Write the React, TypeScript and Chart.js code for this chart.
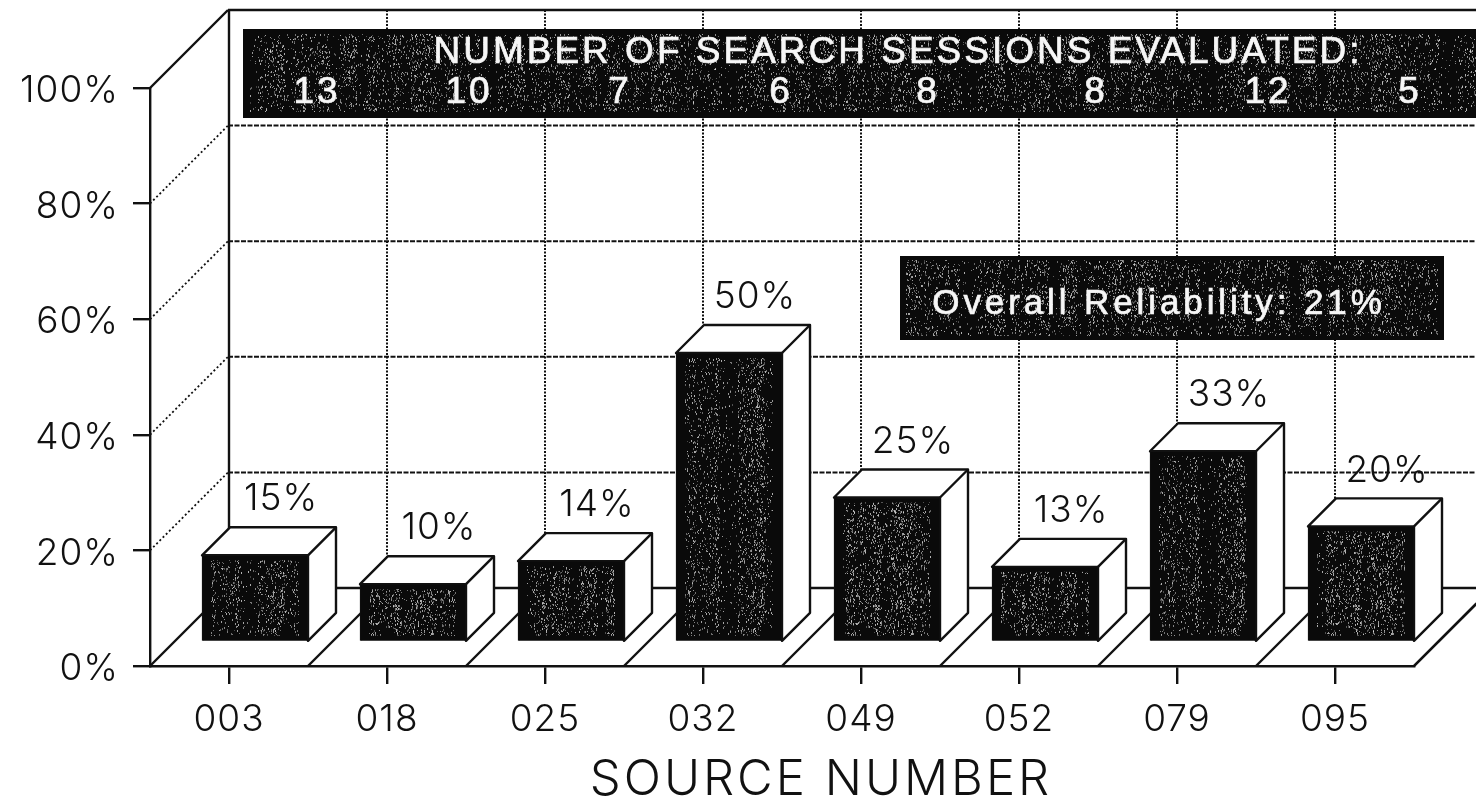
import React, { useEffect, useRef } from "react";
import { Chart, registerables } from "chart.js";

Chart.register(...registerables);

const sources = ["003", "018", "025", "032", "049", "052", "079", "095"];
const reliability = [15, 10, 14, 50, 25, 13, 33, 20];
const sessions = ["13", "10", "7", "6", "8", "8", "12", "5"];
const yTicks = [0, 20, 40, 60, 80, 100];
const bannerTitle = "NUMBER OF SEARCH SESSIONS EVALUATED:";
const overallText = "Overall Reliability: 21%";
const axisTitle = "SOURCE NUMBER";

const W = 1476;
const H = 805;
const INK = "#111111";
const FONT = "Inter";
const DEPTH = 78;
const BAR_DX = 26;
const BAR_DY = -24;
const BOX = 28;
const sessionLabelX = [317, 469, 620, 781, 928, 1096, 1268, 1410];

function speckle(ctx: CanvasRenderingContext2D, density: number) {
  const size = 240;
  const c = document.createElement("canvas");
  c.width = size;
  c.height = size;
  const g = c.getContext("2d")!;
  let s = 12345;
  const next = () => {
    s = (s * 1664525 + 1013904223) >>> 0;
    return s / 4294967296;
  };
  const columns: number[] = [];
  for (let x = 0; x < size; x++) {
    if (x % 9 === 0) columns.push(0.3 + next() * 1.4);
  }
  for (let x = 0; x < size; x++) {
    const d = density * columns[Math.floor(x / 9)];
    for (let y = 0; y < size; y++) {
      if (next() < d) {
        g.fillStyle = `rgba(225,225,225,${0.25 + next() * 0.55})`;
        g.fillRect(x, y, 1, next() < 0.5 ? 2 : 1);
      }
    }
  }
  return ctx.createPattern(c, "repeat")!;
}

const line = (
  ctx: CanvasRenderingContext2D,
  x1: number,
  y1: number,
  x2: number,
  y2: number,
  width: number,
  dash: number[] = []
) => {
  ctx.save();
  ctx.beginPath();
  ctx.setLineDash(dash);
  ctx.lineWidth = width;
  ctx.strokeStyle = INK;
  ctx.moveTo(x1, y1);
  ctx.lineTo(x2, y2);
  ctx.stroke();
  ctx.restore();
};

const cube = {
  id: "cube",
  beforeDraw(chart: any) {
    const ctx = chart.ctx;
    ctx.fillStyle = "#fff";
    ctx.fillRect(0, 0, W, H);
    ctx.letterSpacing = "1px";
  },
  beforeDatasetsDraw(chart: any) {
    const ctx = chart.ctx;
    const x = chart.scales.x;
    const y = chart.scales.y;
    const left = chart.chartArea.left;
    const right = chart.chartArea.right;
    const floorY = y.getPixelForValue(0);
    const backLeft = left + DEPTH;

    yTicks.forEach((v) => {
      const py = y.getPixelForValue(v);
      if (v === 0 || v === 100) {
        line(ctx, backLeft, py - DEPTH, W, py - DEPTH, 2.4);
        line(ctx, left, py, backLeft, py - DEPTH, 2.4);
      } else {
        line(ctx, backLeft, py - DEPTH, W, py - DEPTH, 2, [5, 1.5]);
        line(ctx, left, py, backLeft, py - DEPTH, 1.8, [2, 2.5]);
      }
    });
    sources.forEach((_, i) => {
      const px = x.getPixelForValue(i);
      const topY = y.getPixelForValue(100) - DEPTH;
      if (i === 0) line(ctx, px, topY, px, floorY - DEPTH, 2.4);
      else line(ctx, px, topY, px, floorY - DEPTH, 2, [2, 1.5]);
      const fx = left + (i + 1) * (x.getPixelForValue(1) - x.getPixelForValue(0));
      line(ctx, fx, floorY, fx + DEPTH, floorY - DEPTH, 2.4);
    });
    line(ctx, right, floorY, W, floorY - (W - right), 2.4);

    const meta = chart.getDatasetMeta(0);
    meta.data.forEach((el: any) => {
      const l = el.x - el.width / 2 + BAR_DX;
      const r = el.x + el.width / 2 + BAR_DX;
      const t = el.y + BAR_DY;
      const b = el.base + BAR_DY;
      ctx.save();
      ctx.fillStyle = "#fff";
      ctx.strokeStyle = INK;
      ctx.lineWidth = 2.4;
      ctx.lineJoin = "round";
      ctx.beginPath();
      ctx.moveTo(l, t);
      ctx.lineTo(l + BOX, t - BOX);
      ctx.lineTo(r + BOX, t - BOX);
      ctx.lineTo(r + BOX, b - BOX);
      ctx.lineTo(r, b);
      ctx.lineTo(r, t);
      ctx.closePath();
      ctx.fill();
      ctx.stroke();
      ctx.beginPath();
      ctx.moveTo(r, t);
      ctx.lineTo(r + BOX, t - BOX);
      ctx.stroke();
      ctx.restore();
    });

    ctx.save();
    ctx.translate(BAR_DX, BAR_DY);
  },
  afterDatasetsDraw(chart: any) {
    const ctx = chart.ctx;
    ctx.restore();
    const meta = chart.getDatasetMeta(0);
    const pattern = speckle(ctx, 0.1);
    const patternBanner = speckle(ctx, 0.09);

    meta.data.forEach((el: any, i: number) => {
      const l = el.x - el.width / 2 + BAR_DX;
      const t = el.y + BAR_DY;
      const b = el.base + BAR_DY;
      ctx.fillStyle = pattern;
      ctx.fillRect(l + 9, t + 5, el.width - 18, b - t - 10);
      ctx.save();
      ctx.fillStyle = "#111";
      ctx.font = `300 37px ${FONT}`;
      ctx.textAlign = "center";
      ctx.textBaseline = "middle";
      ctx.fillText(`${reliability[i]}%`, el.x + BAR_DX + BOX - 2, t - BOX - 28);
      ctx.restore();
    });

    ctx.save();
    ctx.fillStyle = "#0a0a0a";
    ctx.fillRect(243, 29, W - 243, 89);
    ctx.fillStyle = patternBanner;
    ctx.fillRect(250, 34, W - 250, 78);
    ctx.fillStyle = "#f6f6f6";
    ctx.strokeStyle = "#f6f6f6";
    ctx.lineWidth = 0.7;
    ctx.textBaseline = "middle";
    ctx.textAlign = "center";
    ctx.font = `400 37px "Liberation Sans"`;
    ctx.letterSpacing = "3px";
    ctx.fillText(bannerTitle, 898, 53);
    ctx.strokeText(bannerTitle, 898, 53);
    sessions.forEach((s, i) => {
      ctx.fillText(s, sessionLabelX[i], 93);
      ctx.strokeText(s, sessionLabelX[i], 93);
    });
    ctx.restore();

    ctx.save();
    ctx.fillStyle = "#0a0a0a";
    ctx.fillRect(900, 256, 544, 84);
    ctx.fillStyle = patternBanner;
    ctx.fillRect(906, 260, 532, 76);
    ctx.fillStyle = "#f6f6f6";
    ctx.strokeStyle = "#f6f6f6";
    ctx.lineWidth = 0.7;
    ctx.textBaseline = "middle";
    ctx.textAlign = "center";
    ctx.font = `400 35px "Liberation Sans"`;
    ctx.letterSpacing = "3.9px";
    ctx.fillText(overallText, 1159, 304);
    ctx.strokeText(overallText, 1159, 304);
    ctx.restore();

    ctx.save();
    ctx.fillStyle = "#111";
    ctx.textAlign = "center";
    ctx.textBaseline = "middle";
    ctx.font = `300 49px ${FONT}`;
    ctx.letterSpacing = "3px";
    ctx.fillText(axisTitle, 821, 780);
    ctx.restore();
  },
};

export default function App() {
  const ref = useRef<HTMLCanvasElement>(null);
  useEffect(() => {
    const chart = new Chart(ref.current!, {
      type: "bar",
      data: {
        labels: sources,
        datasets: [
          {
            label: "Reliability",
            data: reliability,
            backgroundColor: "#0a0a0a",
            borderColor: INK,
            borderWidth: 1,
            barThickness: 106,
            clip: false,
          } as any,
        ],
      },
      options: {
        responsive: false,
        animation: false,
        layout: { padding: { left: 0, top: 88, right: W - 1414, bottom: 0 } },
        plugins: { legend: { display: false }, tooltip: { enabled: false } },
        scales: {
          x: {
            afterFit(s: any) {
              s.height = H - 666;
            },
            grid: { drawOnChartArea: false, color: INK, lineWidth: 2.4, tickLength: 18, offset: false },
            border: { display: true, color: INK, width: 2.4 },
            ticks: {
              color: "#111",
              padding: 14,
              maxRotation: 0,
              autoSkip: false,
              font: { family: FONT, size: 37, weight: "300" as any },
            },
          },
          y: {
            min: 0,
            max: 100,
            afterFit(s: any) {
              s.width = 150;
            },
            afterBuildTicks(s: any) {
              s.ticks = yTicks.map((value) => ({ value }));
            },
            grid: { drawOnChartArea: false, color: INK, lineWidth: 2.4, tickLength: 17 },
            border: { display: true, color: INK, width: 2.4 },
            ticks: {
              color: "#111",
              padding: 14,
              labelOffset: 3,
              font: { family: FONT, size: 37, weight: "300" as any },
              callback: (v: any) => `${v}%`,
            },
          },
        },
      },
      plugins: [cube as any],
    });
    return () => chart.destroy();
  }, []);
  return (
    <div style={{ position: "fixed", left: 0, top: 0, width: W, height: H, background: "#fff" }}>
      <canvas ref={ref} width={W} height={H} style={{ display: "block" }} />
    </div>
  );
}
